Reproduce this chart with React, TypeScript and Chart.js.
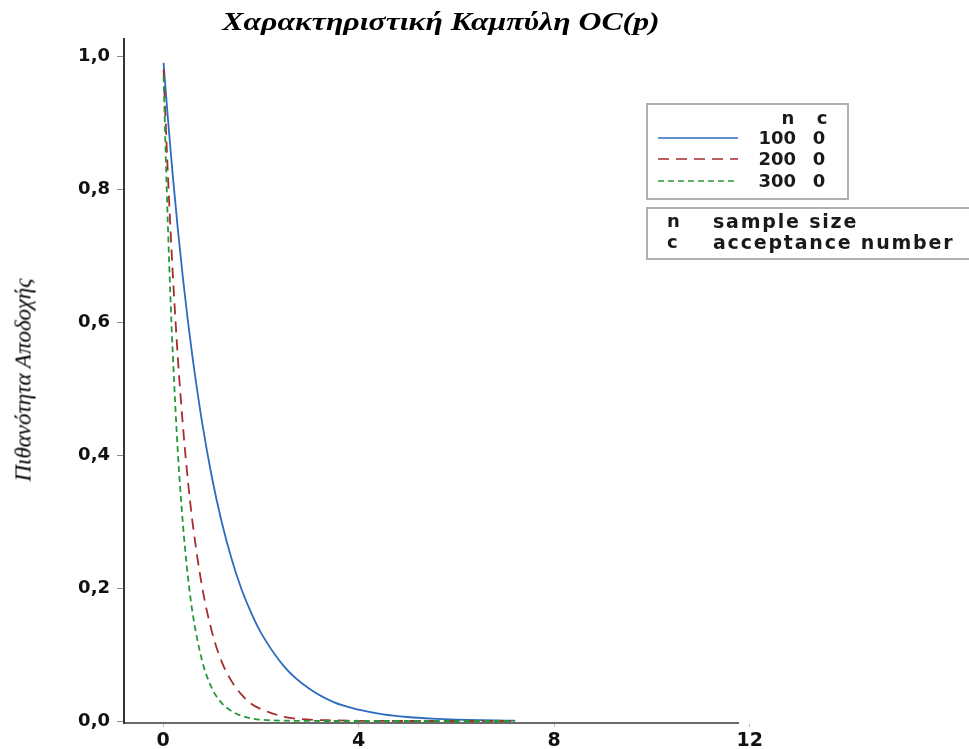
import React, { useEffect, useRef } from "react";
import { Chart, registerables } from "chart.js";

Chart.register(...registerables);

// Lot fraction defective p (%)
const pValues = [0.01, 0.05, 0.1, 0.15, 0.2, 0.3, 0.4, 0.5, 0.6, 0.8, 1.0, 1.2, 1.4, 1.6, 1.8, 2.0, 2.5, 3.0, 3.5, 4.0, 4.5, 5.0, 5.5, 6.0, 6.5, 7.0, 7.2];
// Probability of acceptance, n=100, c=0
const oc100 = [0.99, 0.951, 0.905, 0.861, 0.819, 0.741, 0.67, 0.606, 0.548, 0.448, 0.366, 0.299, 0.244, 0.199, 0.163, 0.133, 0.08, 0.048, 0.028, 0.017, 0.01, 0.006, 0.0035, 0.002, 0.0012, 0.0007, 0.0005];
// n=200, c=0
const oc200 = [0.98, 0.905, 0.819, 0.741, 0.67, 0.548, 0.449, 0.367, 0.3, 0.201, 0.134, 0.089, 0.06, 0.04, 0.026, 0.018, 0.006, 0.002, 0.001, 0.0003, 0.0001, 0, 0, 0, 0, 0, 0];
// n=300, c=0
const oc300 = [0.97, 0.861, 0.741, 0.637, 0.549, 0.406, 0.301, 0.222, 0.164, 0.09, 0.049, 0.027, 0.015, 0.008, 0.004, 0.002, 0.0005, 0.0001, 0, 0, 0, 0, 0, 0, 0, 0, 0];

const xTicks = [0, 4, 8, 12];
const yTicks = [0, 0.2, 0.4, 0.6, 0.8, 1.0];

const titleText = "Χαρακτηριστική Καμπύλη OC(p)";
const yTitleText = "Πιθανότητα Αποδοχής";
const legendRows = [
  { n: "100", c: "0" },
  { n: "200", c: "0" },
  { n: "300", c: "0" },
];

const BLUE = "#2d6bbf";
const RED = "#a52d2d";
const GREEN = "#27983a";

const toPts = (ys: number[]) => pValues.map((p, i) => ({ x: p, y: ys[i] }));

export default function App() {
  const ref = useRef<HTMLCanvasElement | null>(null);

  useEffect(() => {
    if (!ref.current) return;
    const tickFont = { family: "DejaVu Sans", weight: "bold" as const };
    const chart = new Chart(ref.current, {
      type: "line",
      data: {
        datasets: [
          { label: "100 0", data: toPts(oc100), borderColor: BLUE, borderWidth: 1.8, pointRadius: 0, cubicInterpolationMode: "monotone", order: 3 },
          { label: "200 0", data: toPts(oc200), borderColor: RED, borderWidth: 1.8, borderDash: [11, 7], pointRadius: 0, cubicInterpolationMode: "monotone", order: 2 },
          { label: "300 0", data: toPts(oc300), borderColor: GREEN, borderWidth: 1.8, borderDash: [6, 4], pointRadius: 0, cubicInterpolationMode: "monotone", order: 1 },
        ],
      },
      options: {
        responsive: false,
        animation: false,
        devicePixelRatio: 1,
        layout: { padding: { left: 0, top: 39, right: 231, bottom: 0 } },
        plugins: { legend: { display: false }, title: { display: false }, tooltip: { enabled: false } },
        scales: {
          x: {
            type: "linear",
            min: -0.8,
            max: 11.76,
            afterBuildTicks: (axis: any) => {
              axis.ticks = xTicks.map((v) => ({ value: v }));
            },
            afterFit: (s: any) => {
              s.height = 26;
            },
            ticks: {
              autoSkip: false,
              maxRotation: 0,
              padding: 3,
              color: "#111",
              font: { ...tickFont, size: 19 },
              callback: (v: any) => String(v),
            },
            grid: { display: true, drawOnChartArea: false, drawTicks: true, tickLength: 4, color: "#bbbbbb" },
            border: { display: true, color: "#6a6a6a", width: 2 },
          },
          y: {
            type: "linear",
            min: -0.003,
            max: 1.026,
            afterBuildTicks: (axis: any) => {
              axis.ticks = yTicks.map((v) => ({ value: v }));
            },
            afterFit: (s: any) => {
              s.width = 124;
            },
            ticks: {
              autoSkip: false,
              padding: 7,
              color: "#111",
              font: { ...tickFont, size: 18 },
              callback: (v: any) => Number(v).toFixed(1).replace(".", ","),
            },
            grid: { display: true, drawOnChartArea: false, drawTicks: true, tickLength: 7, color: "#8a8a8a" },
            border: { display: true, color: "#333333", width: 2 },
          },
        },
      },
    });
    return () => chart.destroy();
  }, []);

  const legendFont: React.CSSProperties = {
    position: "absolute",
    fontFamily: "'DejaVu Sans', sans-serif",
    fontWeight: "bold",
    fontSize: 18,
    color: "#1a1a1a",
    lineHeight: "20px",
    whiteSpace: "nowrap",
  };
  const rowY = [138, 159, 181];
  const dashes = ["", "11 7", "6 4"];
  const colors = [BLUE, RED, GREEN];

  return (
    <div style={{ position: "fixed", left: 0, top: 0, width: 969, height: 749, background: "#fff", overflow: "hidden" }}>
      <canvas ref={ref} width={969} height={749} style={{ position: "absolute", left: 0, top: 0 }} />
      <div
        style={{
          position: "absolute",
          left: 441,
          top: 21,
          transform: "translate(-50%, -50%) scaleX(1.27)",
          fontFamily: "'Liberation Serif', serif",
          fontStyle: "italic",
          fontWeight: "bold",
          fontSize: 25,
          lineHeight: 1,
          whiteSpace: "nowrap",
          color: "#000",
        }}
      >
        {titleText}
      </div>
      <div
        style={{
          position: "absolute",
          left: 23,
          top: 380,
          transform: "translate(-50%, -50%) rotate(-90deg)",
          fontFamily: "'Liberation Serif', serif",
          fontStyle: "italic",
          fontSize: 23,
          lineHeight: 1,
          whiteSpace: "nowrap",
          color: "#000",
        }}
      >
        {yTitleText}
      </div>
      {/* legend box 1 */}
      <div style={{ position: "absolute", left: 646, top: 103, width: 199, height: 93, border: "2px solid #b0b0b0" }} />
      <div style={{ ...legendFont, left: 778, top: 108, width: 20, textAlign: "center" }}>n</div>
      <div style={{ ...legendFont, left: 812, top: 108, width: 20, textAlign: "center" }}>c</div>
      {legendRows.map((r, i) => (
        <React.Fragment key={r.n}>
          <svg style={{ position: "absolute", left: 658, top: rowY[i] - 2, overflow: "visible" }} width={80} height={4}>
            <line x1={0} y1={2} x2={80} y2={2} stroke={colors[i]} strokeWidth={1.5} strokeDasharray={dashes[i] || undefined} />
          </svg>
          <div style={{ ...legendFont, left: 746, top: rowY[i] - 10, width: 50, textAlign: "right" }}>{r.n}</div>
          <div style={{ ...legendFont, left: 809, top: rowY[i] - 10, width: 20, textAlign: "center" }}>{r.c}</div>
        </React.Fragment>
      ))}
      {/* legend box 2 */}
      <div style={{ position: "absolute", left: 646, top: 207, width: 330, height: 49, border: "2px solid #b0b0b0" }} />
      <div style={{ ...legendFont, left: 667, top: 211 }}>n</div>
      <div style={{ ...legendFont, left: 713, top: 211, fontSize: 19, letterSpacing: 1.8 }}>sample size</div>
      <div style={{ ...legendFont, left: 667, top: 232 }}>c</div>
      <div style={{ ...legendFont, left: 713, top: 232, fontSize: 19, letterSpacing: 1.8 }}>acceptance number</div>
    </div>
  );
}
